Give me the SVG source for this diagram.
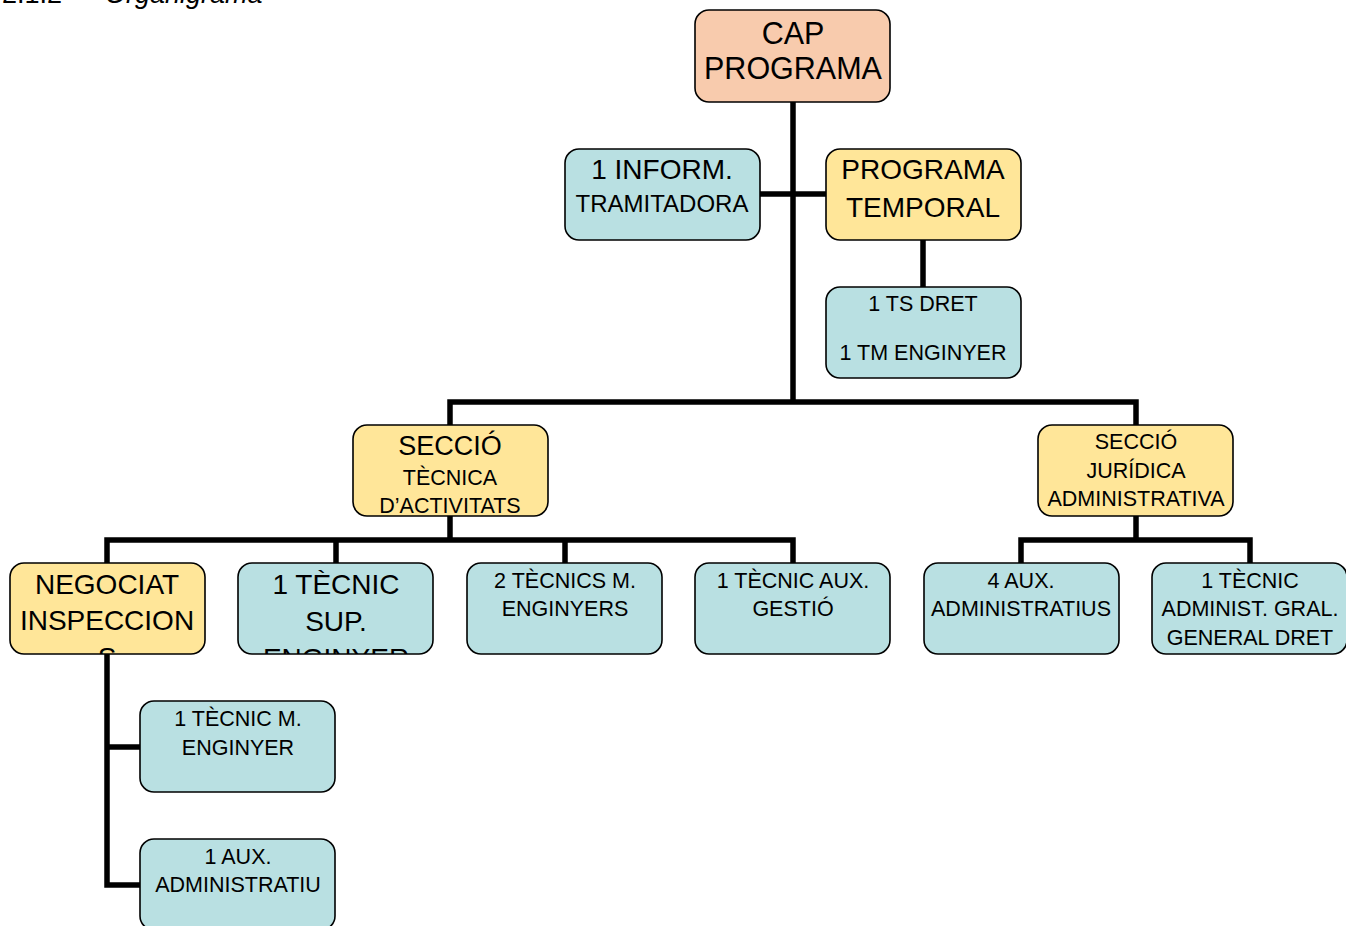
<svg xmlns="http://www.w3.org/2000/svg" width="1346" height="926" viewBox="0 0 1346 926">
<style>
.box{stroke:#000;stroke-width:1.6}
.cap{fill:#f8cbad}
.yel{fill:#ffe699}
.blu{fill:#b9e0e2}
text{font-family:"Liberation Sans",Arial,sans-serif;fill:#000;text-anchor:middle}
.f31{font-size:30.5px}
.f28{font-size:28px}
.f27{font-size:27px}
.f24{font-size:24px}
.f21{font-size:21.5px}
.conn{stroke:#000;stroke-width:5.5;fill:none;stroke-linecap:square}
</style>
<defs>
<clipPath id="cNeg"><rect x="10" y="563" width="195" height="91" rx="14"/></clipPath>
<clipPath id="cSup"><rect x="238" y="563" width="195" height="91" rx="14"/></clipPath>
<clipPath id="cSec"><rect x="353" y="425" width="195" height="91" rx="14"/></clipPath>
</defs>
<rect width="1346" height="926" fill="#fff"/>
<text x="2" y="3" style="font-size:27px;text-anchor:start">2.1.2</text>
<text x="105" y="3" style="font-size:27px;text-anchor:start;font-style:italic">Organigrama</text>
<g id="connectors">
<path class="conn" d="M793 102V402M760 194H826M923 240V287M450 425V402H1136V425"/>
<path class="conn" d="M450 516V540M107 563V540H793V563M336 540V563M565 540V563"/>
<path class="conn" d="M1136 516V540M1021 563V540H1250V563"/>
<path class="conn" d="M107 654V885H140M107 747H140"/>
</g>
<g id="cap-programa">
<rect class="box cap" x="695" y="10" width="195" height="92" rx="14"/>
<text class="f31" x="793" y="44">CAP</text>
<text class="f31" x="793" y="79">PROGRAMA</text>
</g>
<g id="inform-tramitadora">
<rect class="box blu" x="565" y="149" width="195" height="91" rx="14"/>
<text class="f28" x="662" y="179">1 INFORM.</text>
<text class="f24" x="662" y="212">TRAMITADORA</text>
</g>
<g id="programa-temporal">
<rect class="box yel" x="826" y="149" width="195" height="91" rx="14"/>
<text class="f28" x="923" y="179">PROGRAMA</text>
<text class="f28" x="923" y="217">TEMPORAL</text>
</g>
<g id="ts-dret">
<rect class="box blu" x="826" y="287" width="195" height="91" rx="14"/>
<text class="f21" x="923" y="311">1 TS DRET</text>
<text class="f21" x="923" y="360">1 TM ENGINYER</text>
</g>
<g id="seccio-tecnica">
<rect class="box yel" x="353" y="425" width="195" height="91" rx="14"/>
<g clip-path="url(#cSec)">
<text class="f27" x="450" y="455">SECCIÓ</text>
<text class="f21" x="450" y="485">TÈCNICA</text>
<text class="f21" x="450" y="513">D’ACTIVITATS</text>
</g>
</g>
<g id="seccio-juridica">
<rect class="box yel" x="1038" y="425" width="195" height="91" rx="14"/>
<text class="f21" x="1136" y="449">SECCIÓ</text>
<text class="f21" x="1136" y="478">JURÍDICA</text>
<text class="f21" x="1136" y="506">ADMINISTRATIVA</text>
</g>
<g id="negociat">
<rect class="box yel" x="10" y="563" width="195" height="91" rx="14"/>
<g clip-path="url(#cNeg)">
<text class="f28" x="107" y="594">NEGOCIAT</text>
<text class="f28" x="107" y="630">INSPECCION</text>
<text class="f28" x="107" y="667">S</text>
</g>
</g>
<g id="tecnic-sup">
<rect class="box blu" x="238" y="563" width="195" height="91" rx="14"/>
<g clip-path="url(#cSup)">
<text class="f28" x="336" y="594">1 TÈCNIC</text>
<text class="f28" x="336" y="631">SUP.</text>
<text class="f28" x="336" y="668">ENGINYER</text>
</g>
</g>
<g id="tecnics-m">
<rect class="box blu" x="467" y="563" width="195" height="91" rx="14"/>
<text class="f21" x="565" y="588">2 TÈCNICS M.</text>
<text class="f21" x="565" y="616">ENGINYERS</text>
</g>
<g id="tecnic-aux">
<rect class="box blu" x="695" y="563" width="195" height="91" rx="14"/>
<text class="f21" x="793" y="588">1 TÈCNIC AUX.</text>
<text class="f21" x="793" y="616">GESTIÓ</text>
</g>
<g id="aux-administratius">
<rect class="box blu" x="924" y="563" width="195" height="91" rx="14"/>
<text class="f21" x="1021" y="588">4 AUX.</text>
<text class="f21" x="1021" y="616">ADMINISTRATIUS</text>
</g>
<g id="tecnic-administ">
<rect class="box blu" x="1152" y="563" width="195" height="91" rx="14"/>
<text class="f21" x="1250" y="588">1 TÈCNIC</text>
<text class="f21" x="1250" y="616">ADMINIST. GRAL.</text>
<text class="f21" x="1250" y="645">GENERAL DRET</text>
</g>
<g id="tecnic-m-enginyer">
<rect class="box blu" x="140" y="701" width="195" height="91" rx="14"/>
<text class="f21" x="238" y="726">1 TÈCNIC M.</text>
<text class="f21" x="238" y="755">ENGINYER</text>
</g>
<g id="aux-administratiu">
<rect class="box blu" x="140" y="839" width="195" height="91" rx="14"/>
<text class="f21" x="238" y="864">1 AUX.</text>
<text class="f21" x="238" y="892">ADMINISTRATIU</text>
</g>
</svg>
